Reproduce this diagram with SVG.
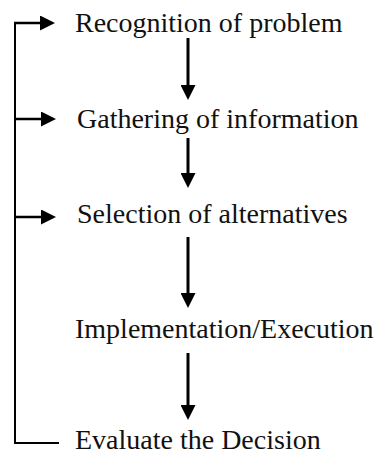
<svg xmlns="http://www.w3.org/2000/svg" width="378" height="456" viewBox="0 0 378 456">
  <style>
    .lbl { font-family: 'Liberation Serif', 'Times New Roman', Times, serif; font-size: 28px; fill: #111; }
    .shaft { stroke: #000; stroke-width: 3; fill: none; }
    .feed { stroke: #000; stroke-width: 2.5; fill: none; }
    .loop { stroke: #000; stroke-width: 2; fill: none; }
  </style>
  <defs>
    <marker id="ah" markerUnits="userSpaceOnUse" markerWidth="16" markerHeight="15" refX="7" refY="7.5" orient="auto" viewBox="0 0 16 15">
      <path d="M0,0 L15,7.5 L0,15 z" fill="#000"/>
    </marker>
  </defs>
  <rect width="378" height="456" fill="#fff"/>
  <g id="connectors">
    <line class="shaft" x1="188" y1="38" x2="188" y2="92" marker-end="url(#ah)"/>
    <line class="shaft" x1="188" y1="138" x2="188" y2="180" marker-end="url(#ah)"/>
    <line class="shaft" x1="188" y1="237" x2="188" y2="300" marker-end="url(#ah)"/>
    <line class="shaft" x1="188" y1="353" x2="188" y2="412" marker-end="url(#ah)"/>
    <path class="loop" d="M59,443 H15 V23"/>
    <line class="feed" x1="14" y1="23" x2="47" y2="23" marker-end="url(#ah)"/>
    <line class="feed" x1="15" y1="119" x2="48" y2="119" marker-end="url(#ah)"/>
    <line class="feed" x1="15" y1="217" x2="48" y2="217" marker-end="url(#ah)"/>
  </g>
  <g id="n1"><text class="lbl" font-family="Liberation Serif" x="75" y="32">Recognition of problem</text></g>
  <g id="n2"><text class="lbl" font-family="Liberation Serif" x="77" y="128">Gathering of information</text></g>
  <g id="n3"><text class="lbl" font-family="Liberation Serif" x="77" y="223">Selection of alternatives</text></g>
  <g id="n4"><text class="lbl" font-family="Liberation Serif" x="75" y="338">Implementation/Execution</text></g>
  <g id="n5"><text class="lbl" font-family="Liberation Serif" x="75" y="449">Evaluate the Decision</text></g>
</svg>
